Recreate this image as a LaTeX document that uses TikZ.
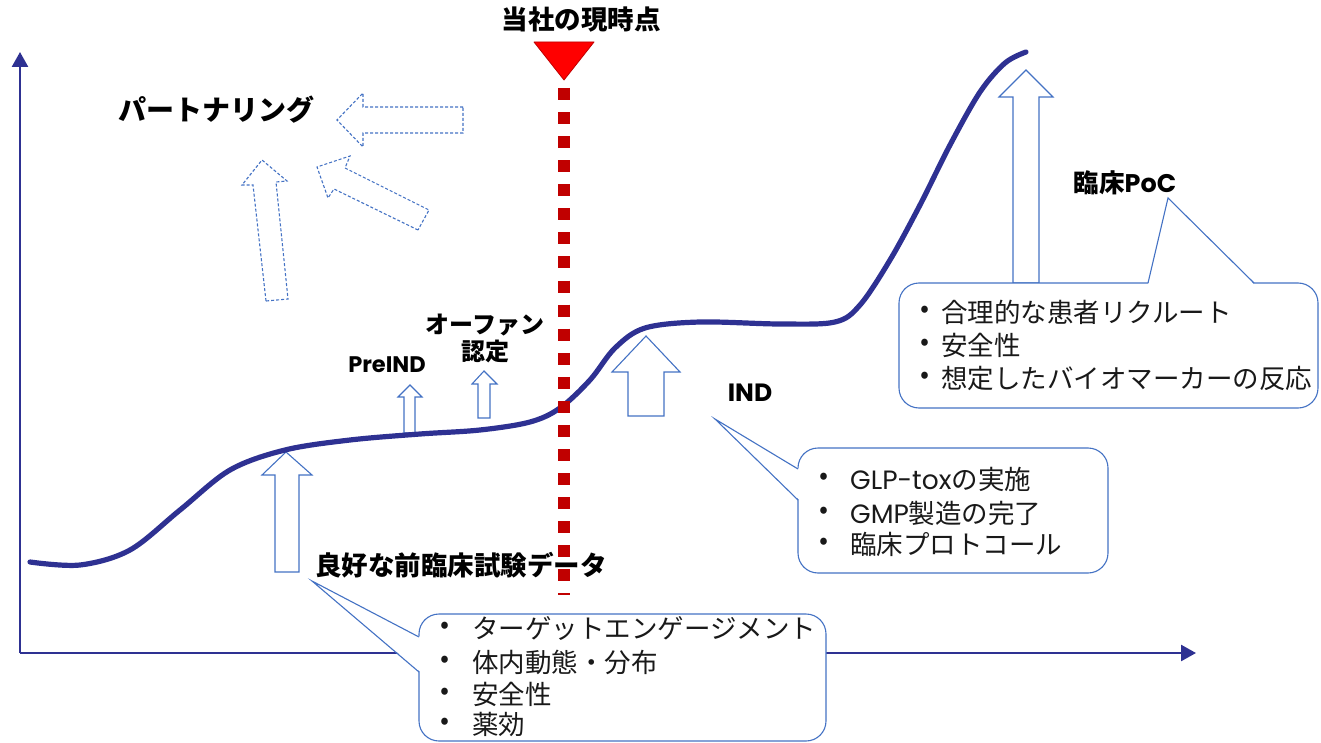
\documentclass[tikz,border=0pt]{standalone}
\usepackage{fontspec}
\newfontfamily\jp{Noto Sans CJK JP}
\newfontfamily\lat{Poppins}
\definecolor{navy}{HTML}{2E3192}
\definecolor{outl}{HTML}{4472C4}
\definecolor{dotred}{HTML}{C00000}
\usetikzlibrary{arrows.meta}
\tikzset{
  lbl/.style={font=\jp\bfseries\fontsize{25}{28}\selectfont, inner sep=0pt, text=black},
  itemtxt/.style={font=\jp\fontsize{26.5}{30}\selectfont, inner sep=0pt, anchor=west, text=black!90},
  hollow/.style={draw=outl, fill=white, line width=1.1pt, line join=miter},
  dhollow/.style={draw=outl, fill=white, line width=1.1pt, dash pattern=on 3pt off 2pt},
  callout/.style={draw=outl, fill=white, line width=1.1pt},
  axisline/.style={draw=navy, line width=2.6pt, -{Triangle[length=15pt,width=16pt]}},
}
\begin{document}
\begin{tikzpicture}[x=1pt,y=-1pt]
\useasboundingbox (0,0) rectangle (1321,743);
% axes
\coordinate (origin) at (20,653);
\coordinate (ytop) at (20,52);
\coordinate (xend) at (1196,653);
\draw[axisline] (origin) -- (ytop);
\draw[axisline] (origin) -- (xend);
% hollow arrows
\path[hollow] (275,572)--(275,475)--(262,475)--(286,452)--(312,475)--(299,475)--(299,572)--cycle;
\path[hollow] (404,433)--(404,397)--(398,397)--(410,385)--(422,397)--(415,397)--(415,433)--cycle;
\path[hollow] (478,418)--(478,384)--(472,384)--(484,371)--(497,384)--(490,384)--(490,418)--cycle;
\path[hollow] (628,416)--(628,372)--(612,372)--(646,336)--(680,372)--(664,372)--(664,416)--cycle;
\path[hollow] (1013,283)--(1013,97)--(999,97)--(1026,70)--(1053,97)--(1039,97)--(1039,283)--cycle;
% dashed arrows
\path[dhollow] (463,107)--(363,107)--(363,93)--(337,120)--(363,147)--(363,133)--(463,133)--cycle;
\path[dhollow] (266,301)--(253,185)--(242,185)--(262,160)--(287,181)--(276,182)--(288,299)--cycle;
\path[dhollow] (418,230)--(334,189)--(328,198)--(317,167)--(350,156)--(345,168)--(429,210)--cycle;
% curve
\draw[navy, line width=5.2pt, line cap=round] plot[smooth, tension=0.55] coordinates {
(30,562) (80,565) (130,550) (180,510) (230,470) (285,450) (350,440) (420,434) (480,430)
(530,422) (560,408) (590,380) (615,348) (645,328) (700,322) (780,324) (835,322) (860,305)
(890,260) (920,205) (950,145) (980,92) (1005,63) (1026,52)};
% callout boxes
\filldraw[callout, rounded corners=20pt] (419,614) rectangle (826,741);
\fill[white] (420.5,637) -- (312,581) -- (420.5,672) -- cycle;
\draw[outl, line width=1.1pt] (419,637) -- (312,581) -- (419,672);

\filldraw[callout, rounded corners=20pt] (798,448) rectangle (1108,573);
\fill[white] (799.5,469) -- (715,419) -- (799.5,500) -- cycle;
\draw[outl, line width=1.1pt] (798,469) -- (715,419) -- (798,500);

\filldraw[callout, rounded corners=20pt] (899,283) rectangle (1318,408);
\fill[white] (1148,284.5) -- (1168,198) -- (1254,284.5) -- cycle;
\draw[outl, line width=1.1pt] (1148,283) -- (1168,198) -- (1254,283);
% labels
\node[lbl] (partner) at (216,110) {\fontsize{28}{30}\selectfont パートナリング};
\node[lbl] (title) at (581,20) {\fontsize{26.5}{30}\selectfont 当社の現時点};
\node[lbl, align=center, font=\jp\bfseries\fontsize{24}{27}\selectfont] (orphan) at (485,338) {オーファン\\認定};
\node[lbl] (preind) at (387,365) {\lat\bfseries\fontsize{22.5}{24}\selectfont PreIND};
\node[lbl] (ind) at (750,393) {\lat\bfseries\fontsize{25}{28}\selectfont IND};
\node[lbl] (poc) at (1125,183) {\fontsize{25.5}{28}\selectfont 臨床{\lat\bfseries PoC}};
\node[lbl] (preclin) at (461,565) {\fontsize{26.5}{30}\selectfont 良好な前臨床試験データ};
% bottom box items
\node[itemtxt] (b1d) at (440,628) {•};
\node[itemtxt] (b1) at (472,628) {ターゲットエンゲージメント};
\node[itemtxt] (b2d) at (440,662) {•};
\node[itemtxt] (b2) at (472,662) {体内動態・分布};
\node[itemtxt] (b3d) at (440,694) {•};
\node[itemtxt] (b3) at (472,694) {安全性};
\node[itemtxt] (b4d) at (440,724) {•};
\node[itemtxt] (b4) at (472,724) {薬効};
% IND box items
\node[itemtxt] (i1d) at (819,479) {•};
\node[itemtxt] (i1) at (850,479) {{\lat GLP-tox}の実施};
\node[itemtxt] (i2d) at (819,513) {•};
\node[itemtxt] (i2) at (850,513) {{\lat GMP}製造の完了};
\node[itemtxt] (i3d) at (819,544) {•};
\node[itemtxt] (i3) at (850,544) {臨床プロトコール};
% PoC box items
\node[itemtxt] (p1d) at (920,312) {•};
\node[itemtxt] (p1) at (941,312) {合理的な患者リクルート};
\node[itemtxt] (p2d) at (920,345) {•};
\node[itemtxt] (p2) at (941,345) {安全性};
\node[itemtxt] (p3d) at (920,378) {•};
\node[itemtxt] (p3) at (941,378) {想定したバイオマーカーの反応};
% current point marker
\coordinate (dtop) at (564,88);
\coordinate (dbot) at (564,595);
\draw[dotred, line width=12pt, dash pattern=on 12pt off 12.07pt] (dtop) -- (dbot);
\filldraw[fill=red, draw=dotred, line width=0.8pt, line join=round] (534,42) -- (594,42) -- (564,80) -- cycle;
\end{tikzpicture}
\end{document}
